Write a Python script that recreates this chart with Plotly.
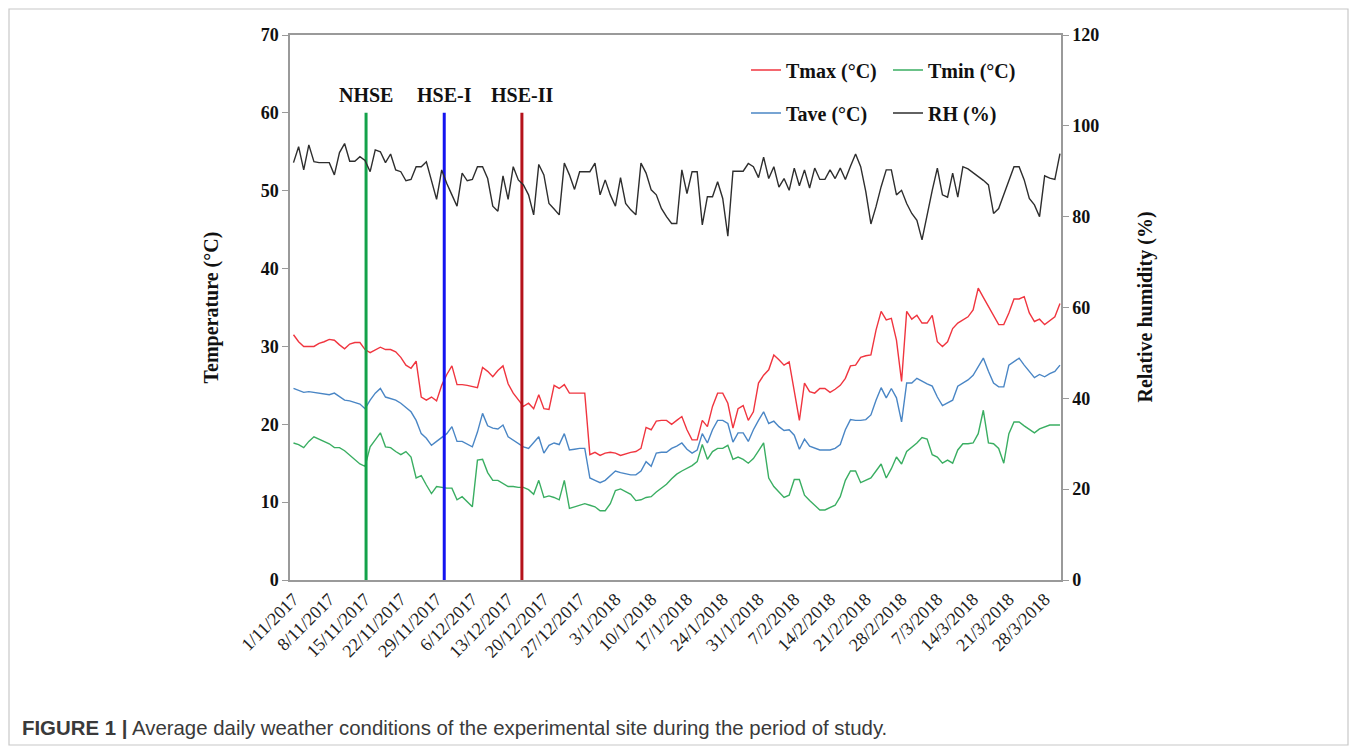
import plotly.graph_objects as go

# ---- daily weather records, 1 Nov 2017 .. 31 Mar 2018 (151 days) ----
tmax = [31.5, 30.6, 30.0, 30.0, 30.0, 30.4, 30.6, 30.9, 30.8, 30.2,
        29.7, 30.3, 30.5, 30.5, 29.6, 29.2, 29.6, 29.9, 29.6, 29.6,
        29.3, 28.6, 27.6, 27.2, 28.1, 23.5, 23.1, 23.5, 23.0, 25.0,
        26.4, 27.5, 25.1, 25.1, 25.0, 24.8, 24.7, 27.3, 26.8, 26.1,
        26.9, 27.5, 25.2, 24.0, 23.1, 22.3, 22.7, 22.0, 23.8, 22.0,
        21.9, 25.0, 24.6, 25.1, 24.0, 24.0, 24.0, 24.0, 16.1, 16.4,
        16.0, 16.3, 16.4, 16.3, 16.0, 16.2, 16.4, 16.5, 16.9, 19.6,
        19.3, 20.4, 20.5, 20.5, 20.0, 20.5, 21.0, 19.3, 18.0, 18.0,
        20.5, 19.7, 22.3, 24.0, 24.0, 22.7, 19.5, 22.0, 22.4, 20.5,
        21.6, 25.3, 26.3, 27.0, 28.9, 28.3, 27.6, 28.0, 24.0, 20.5,
        25.3, 24.2, 24.0, 24.6, 24.6, 24.1, 24.5, 25.0, 25.9, 27.5,
        27.6, 28.6, 28.8, 28.9, 32.1, 34.5, 33.4, 33.6, 30.8, 25.5,
        34.5, 33.5, 34.0, 33.0, 33.0, 34.0, 30.6, 30.0, 30.6, 32.3,
        33.0, 33.4, 33.8, 34.7, 37.5, 36.3, 35.1, 34.0, 32.8, 32.8,
        34.3, 36.1, 36.1, 36.4, 34.3, 33.2, 33.5, 32.8, 33.3, 33.8,
        35.5]

tmin = [17.6, 17.4, 17.0, 17.8, 18.4, 18.1, 17.8, 17.5, 17.0, 17.0,
        16.6, 16.0, 15.4, 14.9, 14.6, 17.1, 18.0, 18.9, 17.1, 17.0,
        16.5, 16.1, 16.5, 15.8, 13.1, 13.4, 12.2, 11.1, 12.0, 11.9,
        11.8, 11.8, 10.3, 10.7, 10.0, 9.4, 15.4, 15.5, 13.8, 12.8,
        12.8, 12.4, 12.0, 12.0, 11.9, 11.9, 11.6, 11.0, 12.8, 10.6,
        10.8, 10.6, 10.3, 12.8, 9.2, 9.4, 9.6, 9.8, 9.6, 9.4,
        8.9, 8.9, 9.8, 11.5, 11.7, 11.3, 11.0, 10.2, 10.3, 10.6,
        10.7, 11.3, 11.8, 12.3, 13.0, 13.6, 14.0, 14.3, 14.7, 15.2,
        17.4, 15.5, 16.5, 16.9, 16.9, 17.3, 15.5, 15.8, 15.5, 15.0,
        15.6, 16.6, 17.6, 13.1, 12.0, 11.3, 10.6, 10.9, 12.9, 12.9,
        10.9, 10.2, 9.6, 9.0, 9.0, 9.3, 9.6, 10.7, 12.8, 14.0,
        14.0, 12.5, 12.8, 13.1, 14.0, 14.9, 13.1, 14.3, 15.8, 14.9,
        16.5, 17.0, 17.6, 18.3, 18.1, 16.1, 15.8, 15.0, 15.4, 15.0,
        16.7, 17.5, 17.5, 17.6, 18.8, 21.8, 17.6, 17.5, 16.9, 15.0,
        18.8, 20.3, 20.3, 19.8, 19.3, 18.9, 19.4, 19.6, 19.9, 19.9,
        19.9]

tave = [24.6, 24.3, 24.1, 24.2, 24.1, 24.0, 23.9, 23.8, 24.0, 23.6,
        23.1, 23.0, 22.8, 22.6, 22.0, 23.1, 24.0, 24.6, 23.5, 23.3,
        23.1, 22.7, 22.1, 21.6, 20.5, 18.8, 18.2, 17.3, 17.8, 18.3,
        18.8, 19.7, 17.8, 17.8, 17.5, 17.1, 19.0, 21.4, 19.8, 19.5,
        19.4, 19.9, 18.4, 18.0, 17.5, 17.1, 16.9, 17.6, 18.4, 16.3,
        17.3, 17.6, 17.4, 18.8, 16.7, 16.8, 16.9, 16.9, 13.1, 12.8,
        12.5, 12.8, 13.4, 14.0, 13.8, 13.6, 13.5, 13.5, 14.0, 15.2,
        14.6, 16.3, 16.4, 16.4, 16.9, 17.2, 17.6, 16.8, 16.3, 16.7,
        18.8, 17.6, 19.3, 20.5, 20.5, 20.1, 17.7, 18.9, 18.9, 17.8,
        19.3, 20.5, 21.6, 20.1, 20.4, 19.7, 19.2, 19.3, 18.6, 16.8,
        18.1, 17.2, 16.9, 16.7, 16.7, 16.7, 16.9, 17.4, 19.3, 20.6,
        20.5, 20.5, 20.6, 21.2, 23.1, 24.7, 23.4, 24.6, 23.4, 20.3,
        25.3, 25.3, 25.9, 25.5, 25.2, 24.9, 23.5, 22.4, 22.8, 23.1,
        24.9, 25.3, 25.7, 26.3, 27.4, 28.5, 26.8, 25.3, 24.8, 24.8,
        27.6, 28.1, 28.5, 27.6, 26.8, 26.0, 26.4, 26.1, 26.5, 26.8,
        27.6]

rh = [91.9, 95.4, 90.3, 95.8, 92.1, 91.9, 91.9, 91.9, 89.2, 94.1,
      96.1, 92.2, 92.2, 93.2, 92.4, 89.9, 94.7, 94.3, 91.9, 93.8,
      90.3, 89.9, 87.9, 88.2, 91.0, 91.0, 92.1, 88.1, 83.8, 90.3,
      87.3, 84.8, 82.3, 89.6, 87.9, 88.2, 91.0, 91.0, 88.4, 82.3,
      81.2, 89.0, 83.8, 91.0, 88.1, 87.0, 84.8, 80.4, 91.5, 89.2,
      82.9, 81.7, 80.4, 91.8, 89.2, 86.0, 89.9, 89.9, 89.9, 91.8,
      84.8, 88.1, 84.8, 82.3, 88.6, 82.9, 81.5, 80.4, 91.8, 89.6,
      85.9, 84.8, 81.8, 80.0, 78.5, 78.5, 90.3, 85.1, 89.9, 89.9,
      78.2, 84.4, 84.4, 87.7, 84.0, 75.7, 90.0, 90.0, 90.0, 91.7,
      91.0, 88.6, 93.1, 88.4, 91.0, 86.5, 88.4, 85.8, 90.7, 86.8,
      90.3, 86.3, 90.7, 88.2, 88.2, 90.3, 88.4, 90.7, 88.2, 91.1,
      93.8, 91.0, 85.5, 78.4, 82.2, 86.6, 90.3, 90.3, 84.8, 85.8,
      82.9, 80.7, 79.2, 74.9, 80.7, 85.8, 90.7, 84.8, 84.3, 89.6,
      84.3, 91.0, 90.5, 89.7, 88.9, 88.0, 87.0, 80.7, 81.8, 84.8,
      87.7, 91.0, 91.0, 88.1, 84.0, 82.6, 80.0, 89.0, 88.5, 88.2,
      93.9]

day = list(range(len(tmax)))

tick_days = list(range(0, 148, 7))
tick_labels = ["1/11/2017", "8/11/2017", "15/11/2017", "22/11/2017",
               "29/11/2017", "6/12/2017", "13/12/2017", "20/12/2017",
               "27/12/2017", "3/1/2018", "10/1/2018", "17/1/2018",
               "24/1/2018", "31/1/2018", "7/2/2018", "14/2/2018",
               "21/2/2018", "28/2/2018", "7/3/2018", "14/3/2018",
               "21/3/2018", "28/3/2018"]

# heat-stress sowing environments
event_day = [14.2, 29.5, 44.7]
event_name = ["NHSE", "HSE-I", "HSE-II"]
event_color = ["#13a24a", "#1414f0", "#b5121b"]
event_top = 60

# ---- page geometry (pixels) ----
W, H = 1358, 754
PL, PR, PT, PB = 290, 1061, 35, 580


def px_x(px):
    return (px - PL) / (PR - PL)


def px_y(py):
    return (PB - py) / (PB - PT)


SERIF = "Liberation Serif"
SANS = "Liberation Sans"
AXIS_GREY = "#9a9a9a"

fig = go.Figure()

fig.add_trace(go.Scatter(x=day, y=tmax, mode="lines", name="Tmax (°C)",
                         line=dict(color="#f0353f", width=1.4),
                         legend="legend"))
fig.add_trace(go.Scatter(x=day, y=tmin, mode="lines", name="Tmin (°C)",
                         line=dict(color="#3aae62", width=1.4),
                         legend="legend"))
fig.add_trace(go.Scatter(x=day, y=tave, mode="lines", name="Tave (°C)",
                         line=dict(color="#4a86c5", width=1.4),
                         legend="legend2"))
fig.add_trace(go.Scatter(x=day, y=rh, mode="lines", name="RH (%)",
                         line=dict(color="#2e2e2e", width=1.4),
                         yaxis="y2", legend="legend2"))

for d, name, col in zip(event_day, event_name, event_color):
    fig.add_trace(go.Scatter(x=[d, d], y=[0, event_top], mode="lines",
                             line=dict(color=col, width=3),
                             showlegend=False, hoverinfo="skip"))
    fig.add_annotation(x=d, y=event_top, xref="x", yref="y", text=name,
                       showarrow=False, yanchor="bottom", yshift=5,
                       font=dict(family=SERIF, size=20, color="#111",
                                 weight="bold"))

legend_common = dict(orientation="h", xanchor="left", yanchor="middle",
                     entrywidth=97, entrywidthmode="pixels",
                     bgcolor="rgba(0,0,0,0)", borderwidth=0,
                     font=dict(family=SERIF, size=20, color="#111",
                               weight="bold"),
                     tracegroupgap=0, itemclick=False)

fig.update_layout(
    width=W, height=H,
    margin=dict(l=PL, r=W - PR, t=PT, b=H - PB),
    paper_bgcolor="white", plot_bgcolor="white",
    showlegend=True,
    legend=dict(x=px_x(746), y=px_y(70), **legend_common),
    legend2=dict(x=px_x(746), y=px_y(113), **legend_common),
    xaxis=dict(range=[-0.685, 150.2], tickvals=tick_days,
               ticktext=tick_labels, tickangle=-45, showgrid=False,
               zeroline=False, showline=True, linecolor=AXIS_GREY,
               linewidth=1.5, mirror=True, ticks="",
               tickfont=dict(family=SERIF, size=18, color="#222")),
    yaxis=dict(range=[0, 70], dtick=10, showgrid=False, zeroline=False,
               showline=True, linecolor=AXIS_GREY, linewidth=1.5,
               ticks="outside", ticklen=6, tickcolor=AXIS_GREY,
               tickfont=dict(family=SERIF, size=18, color="#111",
                             weight="bold")),
    yaxis2=dict(range=[0, 120], dtick=20, overlaying="y", side="right",
                showgrid=False, zeroline=False, showline=True,
                linecolor=AXIS_GREY, linewidth=1.5, ticks="outside",
                ticklen=6, tickcolor=AXIS_GREY,
                tickfont=dict(family=SERIF, size=18, color="#111",
                              weight="bold")),
)

# axis titles
fig.add_annotation(x=px_x(211), y=0.5, xref="paper", yref="paper",
                   xanchor="center", yanchor="middle",
                   text="Temperature (°C)", textangle=-90, showarrow=False,
                   font=dict(family=SERIF, size=20, color="#111",
                             weight="bold"))
fig.add_annotation(x=px_x(1145), y=0.5, xref="paper", yref="paper",
                   xanchor="center", yanchor="middle",
                   text="Relative humidity (%)", textangle=-90,
                   showarrow=False,
                   font=dict(family=SERIF, size=20, color="#111",
                             weight="bold"))

# caption
fig.add_annotation(x=px_x(20), y=px_y(728), xref="paper", yref="paper",
                   xanchor="left", yanchor="middle", showarrow=False,
                   text="<b>FIGURE 1 |</b> Average daily weather conditions "
                        "of the experimental site during the period of study.",
                   font=dict(family=SANS, size=20.4, color="#3a3a3a"))

# outer frame of the figure panel
fig.add_shape(type="rect", xref="paper", yref="paper",
              x0=px_x(9), x1=px_x(1348), y0=px_y(745), y1=px_y(9),
              line=dict(color="#c8c8c8", width=1.2), layer="below")

fig.write_html("out.html")
